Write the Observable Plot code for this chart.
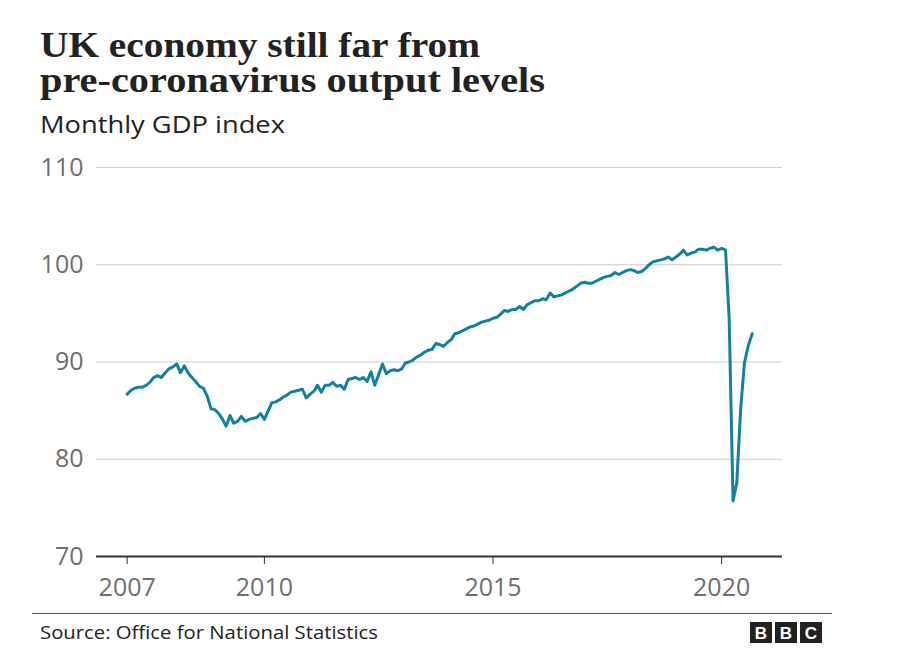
<!DOCTYPE html>
<html>
<head>
<meta charset="utf-8">
<script src="https://cdn.jsdelivr.net/npm/d3@7"></script>
<script src="https://cdn.jsdelivr.net/npm/@observablehq/plot@0.6"></script>
<style>
  html, body { margin: 0; padding: 0; background: #fff; }
  #root { position: relative; width: 912px; height: 672px; overflow: hidden; background: #fff; }
  #chart { position: absolute; left: 0; top: 140px; }
  #overlay { position: absolute; left: 0; top: 0; }
</style>
</head>
<body>
<div id="root">
  <svg id="overlay" width="912" height="672"></svg>
  <div id="chart"></div>
</div>
<script>
// ---- Data ----
const title = ["UK economy still far from", "pre-coronavirus output levels"];
const subtitle = "Monthly GDP index";
const source = "Source: Office for National Statistics";
const startYear = 2007; // first value is January 2007, monthly thereafter
const gdpIndex = [
  86.7, 87.1, 87.3, 87.4, 87.4, 87.6, 87.9, 88.4, 88.6, 88.4, 88.9, 89.3,
  89.5, 89.8, 88.9, 89.6, 88.9, 88.4, 88.0, 87.5, 87.3, 86.5, 85.2, 85.1,
  84.7, 84.1, 83.4, 84.5, 83.7, 83.9, 84.4, 83.9, 84.1, 84.2, 84.3, 84.7,
  84.1, 85.0, 85.8, 85.9, 86.1, 86.4, 86.6, 86.9, 87.0, 87.1, 87.2, 86.3,
  86.7, 87.0, 87.6, 86.9, 87.6, 87.6, 87.9, 87.5, 87.6, 87.2, 88.2, 88.3,
  88.4, 88.2, 88.4, 88.0, 89.0, 87.6, 88.7, 89.8, 88.8, 89.1, 89.2, 89.1,
  89.3, 89.9, 90.0, 90.2, 90.5, 90.7, 91.0, 91.2, 91.3, 91.9, 91.8, 91.6,
  92.0, 92.3, 92.9, 93.0, 93.2, 93.4, 93.6, 93.7, 93.9, 94.1, 94.2, 94.3,
  94.5, 94.6, 94.9, 95.3, 95.2, 95.4, 95.4, 95.7, 95.4, 95.9, 96.1, 96.3,
  96.3, 96.5, 96.4, 97.1, 96.7, 96.8, 96.9, 97.1, 97.3, 97.5, 97.8, 98.1,
  98.2, 98.1, 98.1, 98.3, 98.5, 98.7, 98.8, 98.9, 99.2, 99.0, 99.2, 99.4,
  99.5, 99.4, 99.2, 99.3, 99.6, 100.0, 100.3, 100.4, 100.5, 100.6, 100.8, 100.5,
  100.8, 101.1, 101.5, 101.0, 101.2, 101.3, 101.6, 101.6, 101.5, 101.7, 101.8, 101.5,
  101.7, 101.5, 94.5, 75.7, 77.6, 85.2, 89.9, 91.7, 92.9
];
const yTicks = [70, 80, 90, 100, 110];
const xTickYears = [2007, 2010, 2015, 2020];

const data = gdpIndex.map((v, i) => ({date: new Date(Date.UTC(startYear, i, 1)), value: v}));

const serif = "'Liberation Serif', 'DejaVu Serif', serif";
const sans = "'Open Sans', 'Noto Sans', sans-serif";

const ov = d3.select("#overlay");
function addText(str, x, y, font, fill, len) {
  const t = ov.append("text").attr("x", x).attr("y", y).attr("fill", fill).style("font", font).text(str);
  if (len) t.attr("textLength", len).attr("lengthAdjust", "spacingAndGlyphs");
  return t;
}
addText(title[0], 40, 57, `bold 35px ${serif}`, "#222", 440);
addText(title[1], 40, 92, `bold 35px ${serif}`, "#222", 505);
addText(subtitle, 40, 133, `23px ${sans}`, "#222", 245);
ov.append("line").attr("x1", 32).attr("x2", 832).attr("y1", 613.5).attr("y2", 613.5)
  .attr("stroke", "#555").attr("stroke-width", 1);
addText(source, 40, 639, `19px ${sans}`, "#222", 338);
["B", "B", "C"].forEach((ch, i) => {
  const x0 = 750 + i * 25;
  ov.append("rect").attr("x", x0).attr("y", 622).attr("width", 22).attr("height", 21).attr("fill", "#222");
  addText(ch, x0 + 11, 639, `bold 17px 'Liberation Sans', Arial, sans-serif`, "#fff").attr("text-anchor", "middle");
});

// ---- Chart ----
const chart = Plot.plot({
  width: 912,
  height: 470,
  marginLeft: 96,
  marginRight: 130,
  marginTop: 27,
  marginBottom: 54,
  style: {fontFamily: sans, background: "transparent"},
  x: {type: "utc", domain: [new Date(Date.UTC(2006, 4, 1)), new Date(Date.UTC(2021, 4, 1))]},
  y: {domain: [70, 110]},
  marks: [
    Plot.ruleY(yTicks.filter(d => d > 70), {stroke: "#cccccc", strokeWidth: 1}),
    Plot.axisY(yTicks, {tickSize: 0, tickPadding: 13, fontSize: 25, fill: "#6e6e6e", label: null}),
    Plot.axisX(xTickYears.map(y => new Date(Date.UTC(y, 0, 1))), {
      tickSize: 8, tickPadding: 14, fontSize: 25, fill: "#6e6e6e", stroke: "#333",
      tickFormat: d3.utcFormat("%Y"), label: null
    }),
    Plot.line(data, {x: "date", y: "value", stroke: "#1380A1", strokeWidth: 3, strokeLinejoin: "round"}),
    Plot.ruleY([70], {stroke: "#333", strokeWidth: 2})
  ]
});
document.getElementById("chart").appendChild(chart);
</script>
</body>
</html>
